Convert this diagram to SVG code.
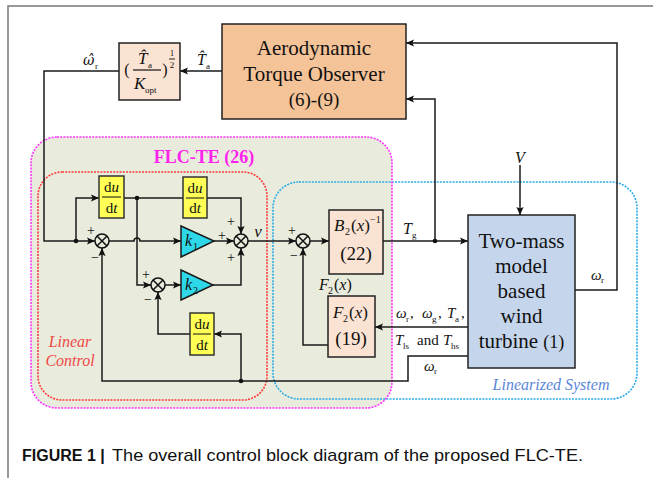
<svg xmlns="http://www.w3.org/2000/svg" width="653" height="478" viewBox="0 0 653 478">
<defs>
<marker id="ah" viewBox="0 0 10 10" refX="10" refY="5" markerWidth="9" markerHeight="8" markerUnits="userSpaceOnUse" orient="auto">
<path d="M0,0.5 L10,5 L0,9.5 L2,5 z" fill="#111"/>
</marker>
<style>
.ln{fill:none;stroke:#1a1a1a;stroke-width:1.5}
.ar{marker-end:url(#ah)}
.bx{stroke:#222;stroke-width:1.5}
.sr{font-family:"Liberation Serif","Times New Roman",serif;fill:#111}
.it{font-style:italic}
.sg{font-family:"Liberation Serif",serif;font-size:14px;fill:#111}
.dot{fill:#111}
.yl{fill:#FFFF55;stroke:#333;stroke-width:1.5}
.tri{fill:#2FD8E8;stroke:#1a1a1a;stroke-width:1.5}
.pk{fill:#FBE3D3}
.jn{fill:none;stroke:#111;stroke-width:1.5}
</style>
</defs>
<rect width="653" height="478" fill="#fff"/>
<path d="M8,478 L8,6 L653,6" fill="none" stroke="#777" stroke-width="1.5"/>

<!-- regions -->
<g id="region-flc">
<rect x="31" y="137" width="361" height="271" rx="26" fill="#E9ECDC"/>
</g>
<g id="region-linear">
<rect x="38" y="172" width="229" height="228" rx="24" fill="none" stroke="#FF3B3B" stroke-width="1.6" stroke-dasharray="2,1.2"/>
<text class="sr it" x="70" y="347" font-size="16" style="fill:#F04848" text-anchor="middle">Linear</text>
<text class="sr it" x="70" y="366" font-size="16" style="fill:#F04848" text-anchor="middle">Control</text>
</g>
<g id="region-linearized">
<rect x="273" y="182" width="364" height="217" rx="26" fill="none" stroke="#2AAAE8" stroke-width="1.6" stroke-dasharray="2,1.2"/>
<text class="sr it" x="551" y="390" font-size="16" style="fill:#5B86D6" text-anchor="middle">Linearized System</text>
</g>
<g id="region-flc-border">
<rect x="31" y="137" width="361" height="271" rx="26" fill="none" stroke="#FF33FF" stroke-width="1.6" stroke-dasharray="2,1.2"/>
<text class="sr" x="204" y="163" font-size="18" font-weight="bold" style="fill:#FF22EE" text-anchor="middle">FLC-TE (26)</text>
</g>

<!-- connectors -->
<g id="connectors">
<path class="ln ar" d="M222,71 L180,71"/>
<path class="ln ar" d="M119,71 L44,71 L44,241 L95,241"/>
<path class="ln ar" d="M76,241 L76,198 L99,198"/>
<path class="ln" d="M124,198 L183,198"/>
<path class="ln ar" d="M207,198 L241,198 L241,234"/>
<path class="ln ar" d="M137,198 L137,285 L151,285"/>
<path class="ln ar" d="M109,241 L134,241 A3,3 0 0 1 140,241 L181,241"/>
<path class="ln ar" d="M214,241 L234,241"/>
<path class="ln ar" d="M165,285 L181,285"/>
<path class="ln ar" d="M213,285 L241,285 L241,248"/>
<path class="ln ar" d="M468,356 L408,356 L408,381 L102,381 L102,248"/>
<path class="ln ar" d="M241,381 L241,334 L214,334"/>
<path class="ln ar" d="M190,334 L158,334 L158,292"/>
<path class="ln ar" d="M248,241 L296,241"/>
<path class="ln ar" d="M310,241 L329,241"/>
<path class="ln ar" d="M383,241 L468,241"/>
<path class="ln ar" d="M435,241 L435,99 L406,99"/>
<path class="ln ar" d="M520,165 L520,215"/>
<path class="ln ar" d="M575,290 L617,290 L617,43 L406,43"/>
<path class="ln ar" d="M468,327 L375,327"/>
<path class="ln ar" d="M328,345 L303,345 L303,248"/>
<circle class="dot" cx="76" cy="241" r="2.3"/>
<circle class="dot" cx="137" cy="198" r="2.3"/>
<circle class="dot" cx="241" cy="381" r="2.3"/>
<circle class="dot" cx="435" cy="241" r="2.3"/>
<!-- connector labels -->
<text class="sr" font-size="16"><tspan x="83" y="65" font-style="italic" font-family="'DejaVu Serif',serif" font-size="14">ω̂</tspan><tspan x="95" y="69" font-size="9">r</tspan></text>
<text class="sr" font-size="16"><tspan x="197" y="65" font-style="italic">T̂</tspan><tspan x="206" y="69" font-size="9">a</tspan></text>
<text class="sr it" x="258" y="237" font-size="17" text-anchor="middle">ν</text>
<text class="sr" font-size="16"><tspan x="403" y="234" font-style="italic">T</tspan><tspan x="412" y="238" font-size="9">g</tspan></text>
<text class="sr it" x="520" y="163" font-size="16" text-anchor="middle">V</text>
<text class="sr" font-size="15"><tspan x="591" y="280" font-style="italic">ω</tspan><tspan x="601" y="283" font-size="9">r</tspan></text>
<text class="sr" font-size="15"><tspan x="424" y="371" font-style="italic">ω</tspan><tspan x="434" y="374" font-size="9">r</tspan></text>
<text class="sr" font-size="16"><tspan x="319" y="290" font-style="italic">F</tspan><tspan x="328" y="294" font-size="10">2</tspan><tspan x="334" y="290">(</tspan><tspan font-style="italic">x</tspan><tspan>)</tspan></text>
<text class="sr" font-size="15"><tspan x="396" y="318" font-style="italic">ω</tspan><tspan x="406" y="322" font-size="9">r</tspan><tspan x="410" y="318">,</tspan><tspan x="422" y="318" font-style="italic">ω</tspan><tspan x="432" y="322" font-size="9">g</tspan><tspan x="438" y="318">,</tspan><tspan x="447" y="318" font-style="italic">T</tspan><tspan x="455" y="322" font-size="9">a</tspan><tspan x="461" y="318">,</tspan></text>
<text class="sr" font-size="15"><tspan x="395" y="345" font-style="italic">T</tspan><tspan x="403" y="349" font-size="9">ls</tspan><tspan x="417" y="345">and</tspan><tspan x="443" y="345" font-style="italic">T</tspan><tspan x="451" y="349" font-size="9">hs</tspan></text>
<!-- signs -->
<text class="sg" x="91" y="235" text-anchor="middle">+</text>
<text class="sg" x="95" y="262" text-anchor="middle">−</text>
<text class="sg" x="146" y="279" text-anchor="middle">+</text>
<text class="sg" x="148" y="304" text-anchor="middle">−</text>
<text class="sg" x="222" y="240" text-anchor="middle">+</text>
<text class="sg" x="231" y="226" text-anchor="middle">+</text>
<text class="sg" x="231" y="262" text-anchor="middle">+</text>
<text class="sg" x="292" y="235" text-anchor="middle">+</text>
<text class="sg" x="294" y="260" text-anchor="middle">−</text>
</g>

<!-- nodes -->
<g id="observer">
<rect class="bx" x="222" y="24" width="184" height="95" fill="#F4C398"/>
<text class="sr" x="314" y="55" font-size="21" text-anchor="middle">Aerodynamic</text>
<text class="sr" x="314" y="81" font-size="21" text-anchor="middle">Torque Observer</text>
<text class="sr" x="314" y="106" font-size="19" text-anchor="middle">(6)-(9)</text>
</g>
<g id="sqrt-block">
<rect class="bx pk" x="119" y="43" width="61" height="57"/>
<text class="sr" x="127" y="75" font-size="16" text-anchor="middle">(</text>
<text class="sr" font-size="17"><tspan x="138" y="64" font-style="italic">T̂</tspan><tspan x="148" y="68" font-size="9">a</tspan></text>
<line x1="133" y1="70" x2="161" y2="70" stroke="#111" stroke-width="1.2"/>
<text class="sr" font-size="17"><tspan x="134" y="89" font-style="italic">K</tspan><tspan x="145" y="93" font-size="9">opt</tspan></text>
<text class="sr" x="165" y="75" font-size="16" text-anchor="middle">)</text>
<text class="sr" x="172" y="56" font-size="9" text-anchor="middle">1</text>
<line x1="169" y1="59" x2="175" y2="59" stroke="#111" stroke-width="0.9"/>
<text class="sr" x="172" y="68" font-size="9" text-anchor="middle">2</text>
</g>
<g id="ddt1">
<rect class="yl" x="99" y="176" width="25" height="42"/>
<text class="sr" x="111.5" y="192" font-size="15" text-anchor="middle">d<tspan font-style="italic">u</tspan></text>
<line x1="102" y1="197" x2="121" y2="197" stroke="#111" stroke-width="1"/>
<text class="sr" x="111.5" y="213" font-size="15" text-anchor="middle">d<tspan font-style="italic">t</tspan></text>
</g>
<g id="ddt2">
<rect class="yl" x="183" y="177" width="24" height="41"/>
<text class="sr" x="195" y="193" font-size="15" text-anchor="middle">d<tspan font-style="italic">u</tspan></text>
<line x1="186" y1="198" x2="204" y2="198" stroke="#111" stroke-width="1"/>
<text class="sr" x="195" y="213" font-size="15" text-anchor="middle">d<tspan font-style="italic">t</tspan></text>
</g>
<g id="ddt3">
<rect class="yl" x="190" y="313" width="24" height="42"/>
<text class="sr" x="202" y="329" font-size="15" text-anchor="middle">d<tspan font-style="italic">u</tspan></text>
<line x1="193" y1="334" x2="211" y2="334" stroke="#111" stroke-width="1"/>
<text class="sr" x="202" y="350" font-size="15" text-anchor="middle">d<tspan font-style="italic">t</tspan></text>
</g>
<g id="k1">
<path class="tri" d="M181,226 L214,241 L181,257 z"/>
<text class="sr" font-size="16"><tspan x="185" y="246" font-style="italic">k</tspan><tspan x="193" y="250" font-size="10">1</tspan></text>
</g>
<g id="k2">
<path class="tri" d="M181,270 L213,285 L181,300 z"/>
<text class="sr" font-size="16"><tspan x="185" y="290" font-style="italic">k</tspan><tspan x="193" y="294" font-size="10">2</tspan></text>
</g>
<g id="sum1">
<circle class="jn" cx="102" cy="241" r="7"/>
<path class="jn" d="M97,236 L107,246 M107,236 L97,246"/>
</g>
<g id="sum2">
<circle class="jn" cx="158" cy="285" r="7"/>
<path class="jn" d="M153,280 L163,290 M163,280 L153,290"/>
</g>
<g id="sum3">
<circle class="jn" cx="241" cy="241" r="7"/>
<path class="jn" d="M236,236 L246,246 M246,236 L236,246"/>
</g>
<g id="sum4">
<circle class="jn" cx="303" cy="241" r="7"/>
<path class="jn" d="M298,236 L308,246 M308,236 L298,246"/>
</g>
<g id="b2-block">
<rect class="bx pk" x="329" y="210" width="54" height="64"/>
<text class="sr" font-size="17"><tspan x="334" y="231" font-style="italic">B</tspan><tspan x="345" y="235" font-size="10">2</tspan><tspan x="351" y="231">(</tspan><tspan font-style="italic">x</tspan><tspan>)</tspan><tspan x="370" y="223" font-size="10">−1</tspan></text>
<text class="sr" x="356" y="260" font-size="19" text-anchor="middle">(22)</text>
</g>
<g id="f2-block">
<rect class="bx pk" x="328" y="296" width="47" height="61"/>
<text class="sr" font-size="17"><tspan x="333" y="318" font-style="italic">F</tspan><tspan x="343" y="322" font-size="10">2</tspan><tspan x="349" y="318">(</tspan><tspan font-style="italic">x</tspan><tspan>)</tspan></text>
<text class="sr" x="351" y="345" font-size="19" text-anchor="middle">(19)</text>
</g>
<g id="turbine">
<rect class="bx" x="468" y="215" width="107" height="153" fill="#C5D6EC"/>
<text class="sr" x="521.5" y="248" font-size="21" text-anchor="middle">Two-mass</text>
<text class="sr" x="521.5" y="273" font-size="21" text-anchor="middle">model</text>
<text class="sr" x="521.5" y="298" font-size="21" text-anchor="middle">based</text>
<text class="sr" x="521.5" y="323" font-size="21" text-anchor="middle">wind</text>
<text class="sr" x="521.5" y="348" font-size="21" text-anchor="middle">turbine <tspan font-size="18">(1)</tspan></text>
</g>

<g id="caption">
<text font-family="'Liberation Sans',Arial,sans-serif" font-size="16" font-weight="bold" x="22" y="461" fill="#111">FIGURE 1 |</text>
<text font-family="'Liberation Sans',Arial,sans-serif" font-size="17" x="112" y="461" fill="#111" textLength="471" lengthAdjust="spacingAndGlyphs">The overall control block diagram of the proposed FLC-TE.</text>
</g>
</svg>
